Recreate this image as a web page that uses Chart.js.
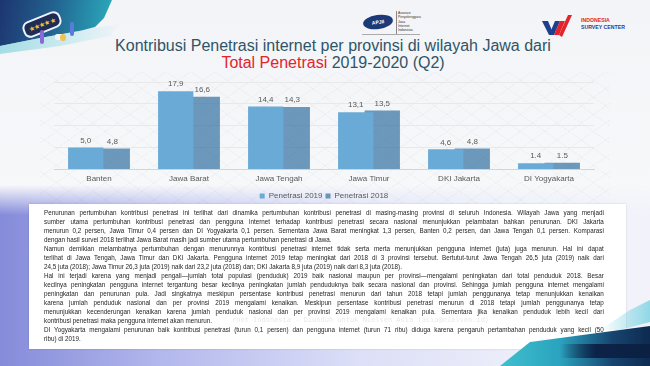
<!DOCTYPE html>
<html>
<head>
<meta charset="utf-8">
<script src="https://cdn.jsdelivr.net/npm/chart.js@4/dist/chart.umd.min.js"></script>
<style>
  html, body { margin: 0; padding: 0; }
  body {
    width: 650px; height: 366px; overflow: hidden; position: relative;
    font-family: "Liberation Sans", Arial, sans-serif;
    background: linear-gradient(to bottom, #f3f4f7 0px, #f7f8fa 190px, #eceefa 260px, #e6e8f8 366px);
  }
  #lower {
    position: absolute; left: 0; top: 185px; width: 650px; height: 181px;
    background: linear-gradient(to right, #858bd9 0%, #b3b8ed 25%, #dcdff7 55%, #eceefa 80%, #f2f3fa 100%);
    -webkit-mask-image: linear-gradient(to bottom, transparent 0px, #000 30px);
    mask-image: linear-gradient(to bottom, transparent 0px, #000 30px);
  }
  #chartbg {
    position: absolute; left: 40px; top: 72px; width: 570px; height: 134px;
    background-image:
      repeating-linear-gradient(35deg, rgba(0,0,0,0.022) 0 1px, transparent 1px 14px),
      repeating-linear-gradient(-35deg, rgba(0,0,0,0.022) 0 1px, transparent 1px 14px);
  }
  #topleft {
    position: absolute; left: 0; top: 0; width: 112px; height: 48px;
    background: linear-gradient(100deg, #1d3570 0%, #22628f 45%, #2bb0bf 100%);
    clip-path: polygon(0 0, 112px 0, 104px 18px, 95px 27px, 80px 31px, 40px 38px, 0 46px);
  }
  #topleft2 {
    position: absolute; left: 0; top: 20px; width: 120px; height: 34px;
    background: linear-gradient(100deg, #7fd0da 0%, #bfe8ee 60%, rgba(255,255,255,0) 100%);
    clip-path: polygon(0 26px, 40px 18px, 95px 8px, 120px 4px, 110px 16px, 60px 26px, 0 34px);
    opacity: 0.7;
  }
  #bubble {
    position: absolute; left: 22px; top: 16px; width: 36px; height: 13px;
    background: #1f2d55; border: 2px solid #eef2ff; border-radius: 7px;
    transform: rotate(-22deg); color: #f6c23e; font-size: 7px; line-height: 13px;
    text-align: center; letter-spacing: -0.5px;
  }
  .fig { position: absolute; border-radius: 2px; }
  #apjii-ring {
    position: absolute; left: 363px; top: 15px; width: 30px; height: 14px;
    border-radius: 50%; background: #1d3a78; transform: rotate(-8deg);
  }
  #apjii-ring span {
    position: absolute; left: 0; top: 0; width: 30px; text-align: center;
    color: #fff; font: bold 5px/14px "Liberation Sans", Arial, sans-serif;
  }
  #apjii-line { position: absolute; left: 396px; top: 11px; width: 1px; height: 23px; background: #888; }
  #apjii-text {
    position: absolute; left: 398px; top: 11px; font: 3.4px/4.3px "Liberation Sans", Arial, sans-serif; color: #333;
  }
  #apjii-sub { position: absolute; left: 362px; top: 34px; width: 58px; height: 1px; background: #aaa; }
  #isc-text { position: absolute; left: 581px; top: 17px; font: bold 5.2px/6.5px "Liberation Sans", Arial, sans-serif; }
  #title {
    position: absolute; left: 0; top: 37px; width: 666px; text-align: center;
    font-size: 16px; line-height: 17px; color: #2f5468;
  }
  #title .red { color: #e3242b; }
  #chartwrap { position: absolute; left: 40px; top: 72px; width: 570px; height: 138px; }
  #box {
    position: absolute; left: 29px; top: 204px; width: 597px; height: 145px;
    background: #ffffff; box-shadow: 0 0 2px rgba(0,0,0,0.15);
  }
  #text {
    position: absolute; left: 44px; top: 208px; width: 622px;
    transform: scaleX(0.9); transform-origin: 0 0;
    font-family: "Liberation Sans", Arial, sans-serif;
    font-size: 7px; line-height: 9px; color: #1e1e1e;
  }
  #text div { white-space: nowrap; text-align: justify; text-align-last: justify; }
  #text div.last { text-align-last: left; }
  #ghost {
    position: absolute; left: 232px; top: 316px; font: 7px/9px "DejaVu Sans Mono", monospace;
    color: rgba(0,0,0,0.1); white-space: nowrap;
  }
  #br1 {
    position: absolute; left: 500px; top: 326px; width: 150px; height: 40px;
    background: linear-gradient(to right, #3fc0cc 0%, #2aa3bf 40%, #17446f 75%, #0e2a50 100%);
    clip-path: polygon(0 40px, 30px 16px, 60px 12px, 150px 0, 150px 40px);
  }
  #br2 {
    position: absolute; left: 560px; top: 344px; width: 90px; height: 14px;
    background: linear-gradient(to right, rgba(14,38,74,0) 0%, #0c2347 40%, #0b2043 100%);
  }
  #br3 {
    position: absolute; left: 600px; top: 300px; width: 50px; height: 30px;
    background: linear-gradient(to right, rgba(150,225,235,0), rgba(120,210,225,0.8));
    clip-path: polygon(0 30px, 30px 10px, 50px 0, 50px 22px, 20px 30px);
  }
</style>
</head>
<body>
<div id="lower"></div>
<div id="chartbg"></div>

<div id="topleft"></div>
<div id="topleft2"></div>
<div id="bubble">★★★★★</div>
<div class="fig" style="left:40px;top:30px;width:4px;height:14px;background:#8a6ad8;"></div>
<div class="fig" style="left:55px;top:34px;width:8px;height:6px;background:#f4f6fb;"></div>
<div class="fig" style="left:60px;top:34px;width:6px;height:7px;background:#f2c14e;border-radius:50%;"></div>
<div class="fig" style="left:70px;top:22px;width:4px;height:14px;background:#5a7bd8;"></div>

<div id="apjii-ring"><span>APJII</span></div>
<div id="apjii-line"></div>
<div id="apjii-text">Asosiasi<br>Penyelenggara<br>Jasa<br>Internet<br>Indonesia</div>
<div id="apjii-sub"></div>
<svg style="position:absolute;left:542px;top:13px" width="36" height="24" viewBox="0 0 36 24">
  <polygon points="0,8 6,8 11,20 7,22" fill="#1e3f8c"/>
  <polygon points="7,22 13,8 18,8 12,22" fill="#1e3f8c"/>
  <polygon points="12,22 18,8 23,8 17,22" fill="#e3242b"/>
  <polygon points="17,22 26,2 30,2 20,24" fill="#e3242b"/>
</svg>
<div id="isc-text"><span style="color:#e3242b">INDONESIA</span><br><span style="color:#1e3f8c">SURVEY CENTER</span></div>

<div id="title">Kontribusi Penetrasi internet per provinsi di wilayah Jawa dari<br><span class="red">Total Penetrasi</span> 2019-2020 (Q2)</div>

<div id="chartwrap"><canvas id="contribChart" width="570" height="138"></canvas></div>

<div id="box"></div>
<div id="text">
  <div>Penurunan pertumbuhan kontribusi penetrasi ini terlihat dari dinamika pertumbuhan kontribusi penetrasi di masing-masing provinsi di seluruh Indonesia. Wilayah Jawa yang menjadi</div>
  <div>sumber utama pertumbuhan kontribusi penetrasi dan pengguna internet terhadap kontribusi penetrasi secara nasional menunjukkan pelambatan bahkan penurunan. DKI Jakarta</div>
  <div>menurun 0,2 persen, Jawa Timur 0,4 persen dan DI Yogyakarta 0,1 persen. Sementara Jawa Barat meningkat 1,3 persen, Banten 0,2 persen, dan Jawa Tengah 0,1 persen. Komparasi</div>
  <div class="last">dengan hasil survei 2018 terlihat Jawa Barat masih jadi sumber utama pertumbuhan penetrasi di Jawa.</div>
  <div>Namun demikian melambatnya pertumbuhan dengan menurunnya kontribusi penetrasi internet tidak serta merta menunjukkan pengguna internet (juta) juga menurun. Hal ini dapat</div>
  <div>terlihat di Jawa Tengah, Jawa Timur dan DKI Jakarta. Pengguna internet 2019 tetap meningkat dari 2018 di 3 provinsi tersebut. Bertutut-turut Jawa Tengah 26,5 juta (2019) naik dari</div>
  <div class="last">24,5 juta (2018); Jawa Timur 26,3 juta (2019) naik dari 23,2 juta (2018) dan; DKI Jakarta 8,9 juta (2019) naik dari 8,3 juta (2018).</div>
  <div>Hal ini terjadi karena yang menjadi pengali—jumlah total populasi (penduduk) 2019 baik nasional maupun per provinsi—mengalami peningkatan dari total penduduk 2018. Besar</div>
  <div>kecilnya peningkatan pengguna internet tergantung besar kecilnya peningkatan jumlah penduduknya baik secara nasional dan provinsi. Sehingga jumlah pengguna internet mengalami</div>
  <div>peningkatan dan penurunan pula. Jadi singkatnya meskipun persentase kontribusi penetrasi menurun dari tahun 2018 tetapi jumlah penggunanya tetap menunjukkan kenaikan</div>
  <div>karena jumlah penduduk nasional dan per provinsi 2019 mengalami kenaikan. Meskipun persentase kontribusi penetrasi menurun di 2018 tetapi jumlah penggunanya tetap</div>
  <div>menunjukkan kecenderungan kenaikan karena jumlah penduduk nasional dan per provinsi 2019 mengalami kenaikan pula. Sementara jika kenaikan penduduk lebih kecil dari</div>
  <div class="last">kontribusi penetrasi maka pengguna internet akan menurun.</div>
  <div>DI Yogyakarta mengalami penurunan baik kontribusi penetrasi (turun 0,1 persen) dan pengguna internet (turun 71 ribu) diduga karena pengaruh pertambahan penduduk yang kecil (50</div>
  <div class="last">ribu) di 2019.</div>
</div>
<div id="ghost">rnet Indonesia - Diunduh untuk Nielsen Asia (asia@nielsen.id)</div>

<div id="br3"></div>
<div id="br1"></div>
<div id="br2"></div>

<script>
const provinces = ['Banten', 'Jawa Barat', 'Jawa Tengah', 'Jawa Timur', 'DKI Jakarta', 'DI Yogyakarta'];
const penetrasi2019 = [5.0, 17.9, 14.4, 13.1, 4.6, 1.4];
const penetrasi2018 = [4.8, 16.6, 14.3, 13.5, 4.8, 1.5];
// value labels as printed on the slide (last pair uses a dot)
const labels2019 = ['5,0', '17,9', '14,4', '13,1', '4,6', '1.4'];
const labels2018 = ['4,8', '16,6', '14,3', '13,5', '4,8', '1.5'];

// draws the numbers above each bar
const valueLabels = {
  id: 'valueLabels',
  afterDatasetsDraw(chart) {
    const ctx = chart.ctx;
    ctx.save();
    ctx.font = '8px "Liberation Sans", Arial, sans-serif';
    ctx.fillStyle = '#595959';
    ctx.textAlign = 'center';
    ctx.textBaseline = 'bottom';
    chart.data.datasets.forEach(function(ds, i) {
      const meta = chart.getDatasetMeta(i);
      meta.data.forEach(function(bar, j) {
        ctx.fillText(ds.valueText[j], bar.x, bar.y - 3);
      });
    });
    ctx.restore();
  }
};

const ctxContrib = document.getElementById('contribChart');

new Chart(ctxContrib, {
  type: 'bar',
  data: {
    labels: provinces,
    datasets: [{
      label: 'Penetrasi 2019',
      data: penetrasi2019,
      valueText: labels2019,
      backgroundColor: 'rgb(106, 170, 214)',
      borderWidth: 0,
      barPercentage: 1.33,
      categoryPercentage: 0.59
    }, {
      label: 'Penetrasi 2018',
      data: penetrasi2018,
      valueText: labels2018,
      backgroundColor: 'rgba(60, 120, 165, 0.75)',
      borderWidth: 0,
      barPercentage: 1.33,
      categoryPercentage: 0.59
    }]
  },
  options: {
    responsive: false,
    animation: false,
    layout: {
      padding: { left: 14, right: 16, top: 10, bottom: 0 }
    },
    plugins: {
      legend: {
        position: 'bottom',
        labels: {
          boxWidth: 5,
          boxHeight: 5,
          padding: 3,
          color: '#595959',
          font: { size: 8, family: '"Liberation Sans", Arial, sans-serif' }
        }
      },
      tooltip: { enabled: false }
    },
    scales: {
      x: {
        grid: { display: false, drawTicks: false },
        border: { color: '#d4d4d4' },
        ticks: {
          color: '#595959',
          padding: 5,
          font: { size: 8, family: '"Liberation Sans", Arial, sans-serif' }
        }
      },
      y: {
        min: 0,
        max: 20,
        ticks: { display: false, stepSize: 5 },
        border: { display: false },
        grid: { color: '#e8e8e8', drawTicks: false }
      }
    }
  },
  plugins: [valueLabels]
});
</script>
</body>
</html>
